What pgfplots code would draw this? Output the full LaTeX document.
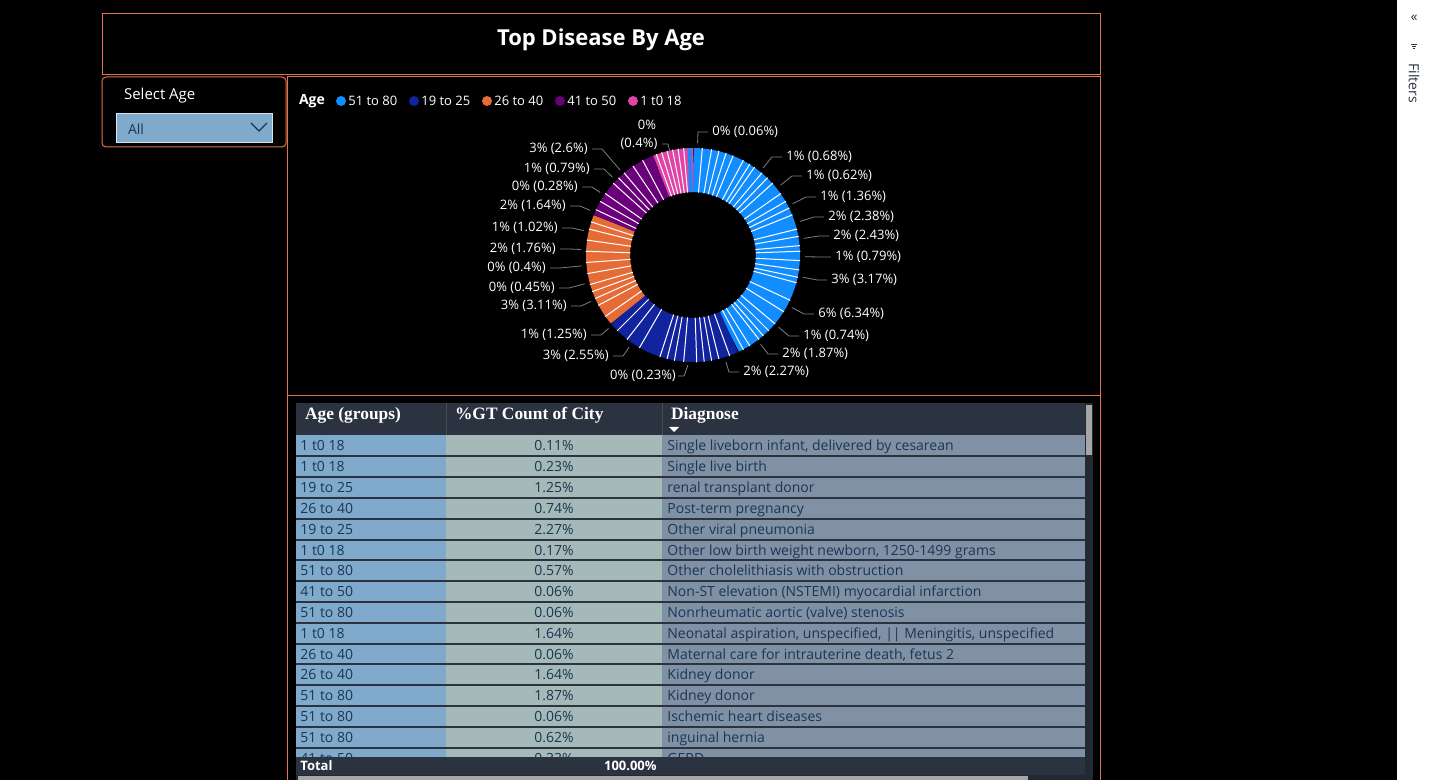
\documentclass[border=0pt]{standalone}
\usepackage{pgfplots}
\pgfplotsset{compat=1.18}
\usepackage{fontspec}
\setmainfont{Open Sans}
\newfontfamily\hdr{Liberation Serif}
\usetikzlibrary{calc}
\definecolor{cA}{HTML}{118DFF}
\definecolor{cB}{HTML}{12239E}
\definecolor{cC}{HTML}{E66C37}
\definecolor{cD}{HTML}{6B007B}
\definecolor{cE}{HTML}{E044A7}
\definecolor{brd}{HTML}{E0734A}
\definecolor{hdrbg}{HTML}{2B3340}
\definecolor{col1}{HTML}{7FAACB}
\definecolor{col2}{HTML}{A6B9B9}
\definecolor{col3}{HTML}{8191A5}
\definecolor{txt}{HTML}{1C3553}
\newcommand\seg[3]{\addplot[draw=#3,line width=22pt,domain=#1:#2,samples=40,variable=\t] ({0.794*cos(\t)},{0.794*sin(\t)});}
\newcommand\sep[1]{\addplot[draw=white,line width=0.5pt,domain=0.585:1.003,samples=2,variable=\t] ({\t*cos(#1)},{\t*sin(#1)});}
\begin{document}
\begin{tikzpicture}[x=0.5pt,y=-0.5pt,font=\fontsize{6.5}{8}\selectfont]
\fill[black] (0,0) rectangle (1430,780);
\useasboundingbox (0,0) rectangle (1430,780);
\coordinate (dc) at (693,255);
\fill[white] (1397,0) rectangle (1430,780);
\node[text=hdrbg,font=\fontsize{7}{8}\selectfont] at (1414,18) {«};
\draw[hdrbg,line width=0.4pt] (1411,44)--(1417,44) (1412,46)--(1416,46) (1413,48)--(1415,48);
\node[rotate=-90,text=hdrbg,font=\fontsize{7}{8}\selectfont] at (1414,83) {Filters};
% panels
\draw[brd,line width=0.5pt] (102,14) rectangle (1100,75);
\node[text=white,font=\bfseries\fontsize{11}{13}\selectfont] at (601,40) {Top Disease By Age};
\draw[brd,line width=0.5pt,rounded corners=2pt] (102,77) rectangle (286,147);
\node[text=white,anchor=west,font=\fontsize{7.5}{9}\selectfont] at (117,96) {Select Age};
\fill[col1] (116,113) rectangle (272,142);
\draw[white!70!col1,line width=0.4pt] (116,113) rectangle (272,142);
\node[text=txt,anchor=west,font=\fontsize{7}{8}\selectfont] at (121,129) {All};
\draw[txt,line width=0.6pt] (251,123)--(259,131)--(267,123);
\draw[brd,line width=0.5pt] (287,77) rectangle (1100,396);
\draw[brd,line width=0.5pt] (287,396) rectangle (1100,780);
% legend
\node[text=white,anchor=west,font=\bfseries\fontsize{7}{8}\selectfont] at (292,101) {Age};
\foreach \xx/\cc/\tt in {341/cA/51 to 80,414/cB/19 to 25,487/cC/26 to 40,560/cD/41 to 50,633/cE/1 t0 18}{
  \fill[\cc] (\xx,101) circle (5);
  \node[text=white,anchor=west,inner sep=0pt] at (\xx+7,101) {\tt};
}
% donut
\begin{scope}[x=1pt,y=1pt]
\begin{axis}[at={(dc)},anchor=center,scale only axis,width=107pt,height=107pt,
  xmin=-1,xmax=1,ymin=-1,ymax=1,hide axis,clip=false]
\seg{-65}{90}{cA}
\seg{-140}{-65}{cB}
\seg{158}{220}{cC}
\seg{112}{158}{cD}
\seg{90}{112}{cE}
\seg{91}{93}{cA}
\pgfplotsinvokeforeach{85,80,76,72,68,62,58,55,50,46,42,35,30,26,22,14,10,5,2,-3,-8,-12,-15,-25,-32,-40,-45,-49,-52,-58,-62}{\sep{#1}}
\pgfplotsinvokeforeach{-70,-76,-80,-84,-88,-95,-100,-104,-108,-120,-128,-135}{\sep{#1}}
\pgfplotsinvokeforeach{215,208,204,200,196,190,184,178,172,166,162}{\sep{#1}}
\pgfplotsinvokeforeach{118,124,130,134,138,145,150,155}{\sep{#1}}
\pgfplotsinvokeforeach{95,98,101,104,107,110}{\sep{#1}}
\end{axis}
\end{scope}
% labels
\foreach \xx/\yy/\tt in {712/132/0\% (0.06\%),786/157/1\% (0.68\%),806/176/1\% (0.62\%),820/197/1\% (1.36\%),828/217/2\% (2.38\%),833/236/2\% (2.43\%),835/257/1\% (0.79\%),831/280/3\% (3.17\%),818/314/6\% (6.34\%),803/336/1\% (0.74\%),782/354/2\% (1.87\%),743/372/2\% (2.27\%)}{
  \node[text=white,anchor=west,inner sep=0pt] at (\xx,\yy) {\tt};
  \draw[gray,line width=0.4pt] ($(693,255)!56pt!(\xx-14,\yy)$) -- (\xx-14,\yy) -- (\xx-4,\yy);
}
\foreach \xx/\yy/\tt in {588/149/3\% (2.6\%),590/169/1\% (0.79\%),578/187/0\% (0.28\%),566/206/2\% (1.64\%),558/228/1\% (1.02\%),556/249/2\% (1.76\%),546/268/0\% (0.4\%),555/288/0\% (0.45\%),567/306/3\% (3.11\%),587/335/1\% (1.25\%),609/356/3\% (2.55\%)}{
  \node[text=white,anchor=east,inner sep=0pt] at (\xx,\yy) {\tt};
  \draw[gray,line width=0.4pt] ($(693,255)!56pt!(\xx+14,\yy)$) -- (\xx+14,\yy) -- (\xx+4,\yy);
}
\node[text=white] at (647,125) {0\%};
\node[text=white] at (639,144) {(0.4\%)};
\draw[gray,line width=0.4pt] (662,144)--(668,144)--(670,152);
\node[text=white] at (643,376) {0\% (0.23\%)};
\draw[gray,line width=0.4pt] (678,376)--(684,376)--(688,365);
% table
\fill[col1] (296,435) rectangle (446,757);
\fill[col2] (446,435) rectangle (662,757);
\fill[col3] (662,435) rectangle (1085,757);
\fill[hdrbg] (296,403) rectangle (1085,435);
\draw[black!70,line width=0.4pt] (446,403)--(446,435) (662,403)--(662,435);
\node[text=white,anchor=west,font=\hdr\bfseries\fontsize{8.7}{10}\selectfont] at (298,415) {Age (groups)};
\node[text=white,anchor=west,font=\hdr\bfseries\fontsize{8.7}{10}\selectfont] at (448,415) {\%GT Count of City};
\node[text=white,anchor=west,font=\hdr\bfseries\fontsize{8.7}{10}\selectfont] at (664,415) {Diagnose};
\fill[white] (669,427)--(679,427)--(674,432)--cycle;
\foreach \a/\b/\c [count=\i from 0] in {{1 t0 18}/{0.11\%}/{Single liveborn infant, delivered by cesarean},
{1 t0 18}/{0.23\%}/{Single live birth},
{19 to 25}/{1.25\%}/{renal transplant donor},
{26 to 40}/{0.74\%}/{Post-term pregnancy},
{19 to 25}/{2.27\%}/{Other viral pneumonia},
{1 t0 18}/{0.17\%}/{Other low birth weight newborn, 1250-1499 grams},
{51 to 80}/{0.57\%}/{Other cholelithiasis with obstruction},
{41 to 50}/{0.06\%}/{Non-ST elevation (NSTEMI) myocardial infarction},
{51 to 80}/{0.06\%}/{Nonrheumatic aortic (valve) stenosis},
{1 t0 18}/{1.64\%}/{Neonatal aspiration, unspecified, || Meningitis, unspecified},
{26 to 40}/{0.06\%}/{Maternal care for intrauterine death, fetus 2},
{26 to 40}/{1.64\%}/{Kidney donor},
{51 to 80}/{1.87\%}/{Kidney donor},
{51 to 80}/{0.06\%}/{Ischemic heart diseases},
{51 to 80}/{0.62\%}/{inguinal hernia}}{
  \pgfmathsetmacro\yy{446+20.8*\i}
  \node[text=txt,anchor=base west,inner sep=0pt,font=\fontsize{7}{8}\selectfont] at (300,\yy+5) {\a};
  \node[text=txt,anchor=base,inner sep=0pt,font=\fontsize{7}{8}\selectfont] at (554,\yy+5) {\b};
  \node[text=txt,anchor=base west,inner sep=0pt,font=\fontsize{7}{8}\selectfont] at (667,\yy+5) {\c};
  \draw[hdrbg,line width=1pt] (296,\yy+10.4) -- (1085,\yy+10.4);
}
\begin{scope}
\clip (296,749) rectangle (1085,757);
\node[text=txt,anchor=base west,inner sep=0pt,font=\fontsize{7}{8}\selectfont] at (300,763) {41 to 50};
\node[text=txt,anchor=base,inner sep=0pt,font=\fontsize{7}{8}\selectfont] at (554,763) {0.33\%};
\node[text=txt,anchor=base west,inner sep=0pt,font=\fontsize{7}{8}\selectfont] at (667,763) {GERD};
\end{scope}
\fill[hdrbg] (296,757) rectangle (1085,775);
\node[text=white,anchor=west,inner sep=0pt,font=\bfseries\fontsize{6.5}{8}\selectfont] at (300,766) {Total};
\node[text=white,anchor=east,inner sep=0pt,font=\bfseries\fontsize{6.5}{8}\selectfont] at (657,766) {100.00\%};
\fill[hdrbg!80!black] (1085,403) rectangle (1093,775);
\fill[gray!70] (1086,405) rectangle (1092,455);
\fill[hdrbg!80!black] (296,775) rectangle (1093,780);
\fill[gray!70] (298,776) rectangle (1028,780);
\end{tikzpicture}
\end{document}
